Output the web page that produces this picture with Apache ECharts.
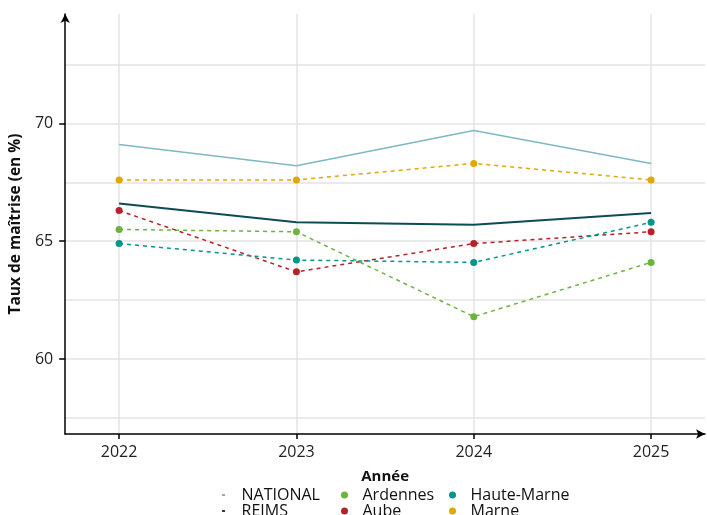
<!DOCTYPE html>
<html>
<head>
<meta charset="utf-8">
<script src="https://cdn.jsdelivr.net/npm/echarts@6/dist/echarts.min.js"></script>
<style>
html,body{margin:0;padding:0;background:#fff;}
#chart{width:707px;height:515px;}
</style>
</head>
<body>
<div id="chart"></div>
<script>
const years = [2022, 2023, 2024, 2025];
const yTicks = [60, 65, 70];
const yMinorGrid = [57.5, 62.5, 67.5, 72.5];
const national = [69.1, 68.2, 69.7, 68.3];
const reims = [66.6, 65.8, 65.7, 66.2];
const ardennes = [65.5, 65.4, 61.8, 64.1];
const aube = [66.3, 63.7, 64.9, 65.4];
const hauteMarne = [64.9, 64.2, 64.1, 65.8];
const marne = [67.6, 67.6, 68.3, 67.6];

const FONT = 'Open Sans';
const pairs = vals => years.map((y, i) => [y, vals[i]]);
const gridColor = '#e3e3e3';

function lineSeries(name, vals, color, width) {
  return { name, type: 'line', data: pairs(vals), color, symbol: 'none', z: 3,
    lineStyle: { color, width, type: 'solid' }, silent: true };
}
function deptSeries(name, vals, color) {
  return { name, type: 'line', data: pairs(vals), color, symbol: 'circle', symbolSize: 7, z: 4,
    itemStyle: { color }, lineStyle: { color, width: 1.5, type: [4, 4] }, silent: true };
}

const dash = 'path://M0,0 L3,0 L3,2 L0,2 Z';
const legendText = { fontFamily: FONT, fontSize: 16, color: '#111', lineHeight: 16 };
const legendBase = { orient: 'vertical', top: 487, height: 40, padding: 0, itemGap: 0, itemWidth: 26, itemHeight: 7,
  selectedMode: false, textStyle: legendText };

const chart = echarts.init(document.getElementById('chart'));
chart.setOption({
  animation: false,
  backgroundColor: '#fff',
  textStyle: { fontFamily: FONT },
  grid: { left: 63, right: 2, top: 14, bottom: 81 },
  legend: [
    Object.assign({}, legendBase, { left: 222, itemHeight: 2, data: [{ name: 'NATIONAL', icon: dash }, { name: 'REIMS', icon: dash }] }),
    Object.assign({}, legendBase, { left: 341, data: [{ name: 'Ardennes', icon: 'circle' }, { name: 'Aube', icon: 'circle' }] }),
    Object.assign({}, legendBase, { left: 449, data: [{ name: 'Haute-Marne', icon: 'circle' }, { name: 'Marne', icon: 'circle' }] })
  ],
  xAxis: {
    type: 'value', min: 2021.696, max: 2025.304,
    name: 'Année', nameLocation: 'middle', nameGap: 35,
    nameTextStyle: { fontFamily: FONT, fontSize: 15, fontWeight: 'bold', color: '#111' },
    axisLine: { show: true, symbol: ['none', 'arrow'], symbolSize: [7, 9], lineStyle: { color: '#000', width: 1.5 } },
    axisTick: { show: true, customValues: years, length: 5, lineStyle: { color: '#000', width: 1.5 } },
    axisLabel: { customValues: years, formatter: v => String(v), fontSize: 16, color: '#222', margin: 10, fontFamily: FONT },
    splitLine: { show: false }
  },
  yAxis: {
    type: 'value', min: 56.82, max: 74.64,
    name: 'Taux de maîtrise (en %)', nameLocation: 'middle', nameGap: 32, nameRotate: 90,
    nameTextStyle: { fontFamily: FONT, fontSize: 15.5, fontWeight: 'bold', color: '#111' },
    axisLine: { show: true, symbol: ['none', 'arrow'], symbolSize: [7, 9], lineStyle: { color: '#000', width: 1.5 } },
    axisTick: { show: true, customValues: yTicks, length: 6, lineStyle: { color: '#000', width: 1.5 } },
    axisLabel: { customValues: yTicks, fontSize: 16, color: '#222', margin: 12, fontFamily: FONT },
    splitLine: { show: false }
  },
  series: [
    { name: 'grid', type: 'line', data: [], z: 0, silent: true,
      markLine: { z: 0, silent: true, symbol: 'none', label: { show: false }, animation: false,
        lineStyle: { color: gridColor, width: 1.5, type: 'solid' },
        emphasis: { disabled: true },
        data: years.map(y => ({ xAxis: y })).concat(yTicks.concat(yMinorGrid).map(v => ({ yAxis: v }))) } },
    lineSeries('NATIONAL', national, '#7db8c5', 1.5),
    deptSeries('Ardennes', ardennes, '#6db33f'),
    deptSeries('Aube', aube, '#b5232a'),
    deptSeries('Haute-Marne', hauteMarne, '#00968a'),
    deptSeries('Marne', marne, '#e0a800'),
    lineSeries('REIMS', reims, '#0b4c55', 2)
  ]
});
</script>
</body>
</html>
